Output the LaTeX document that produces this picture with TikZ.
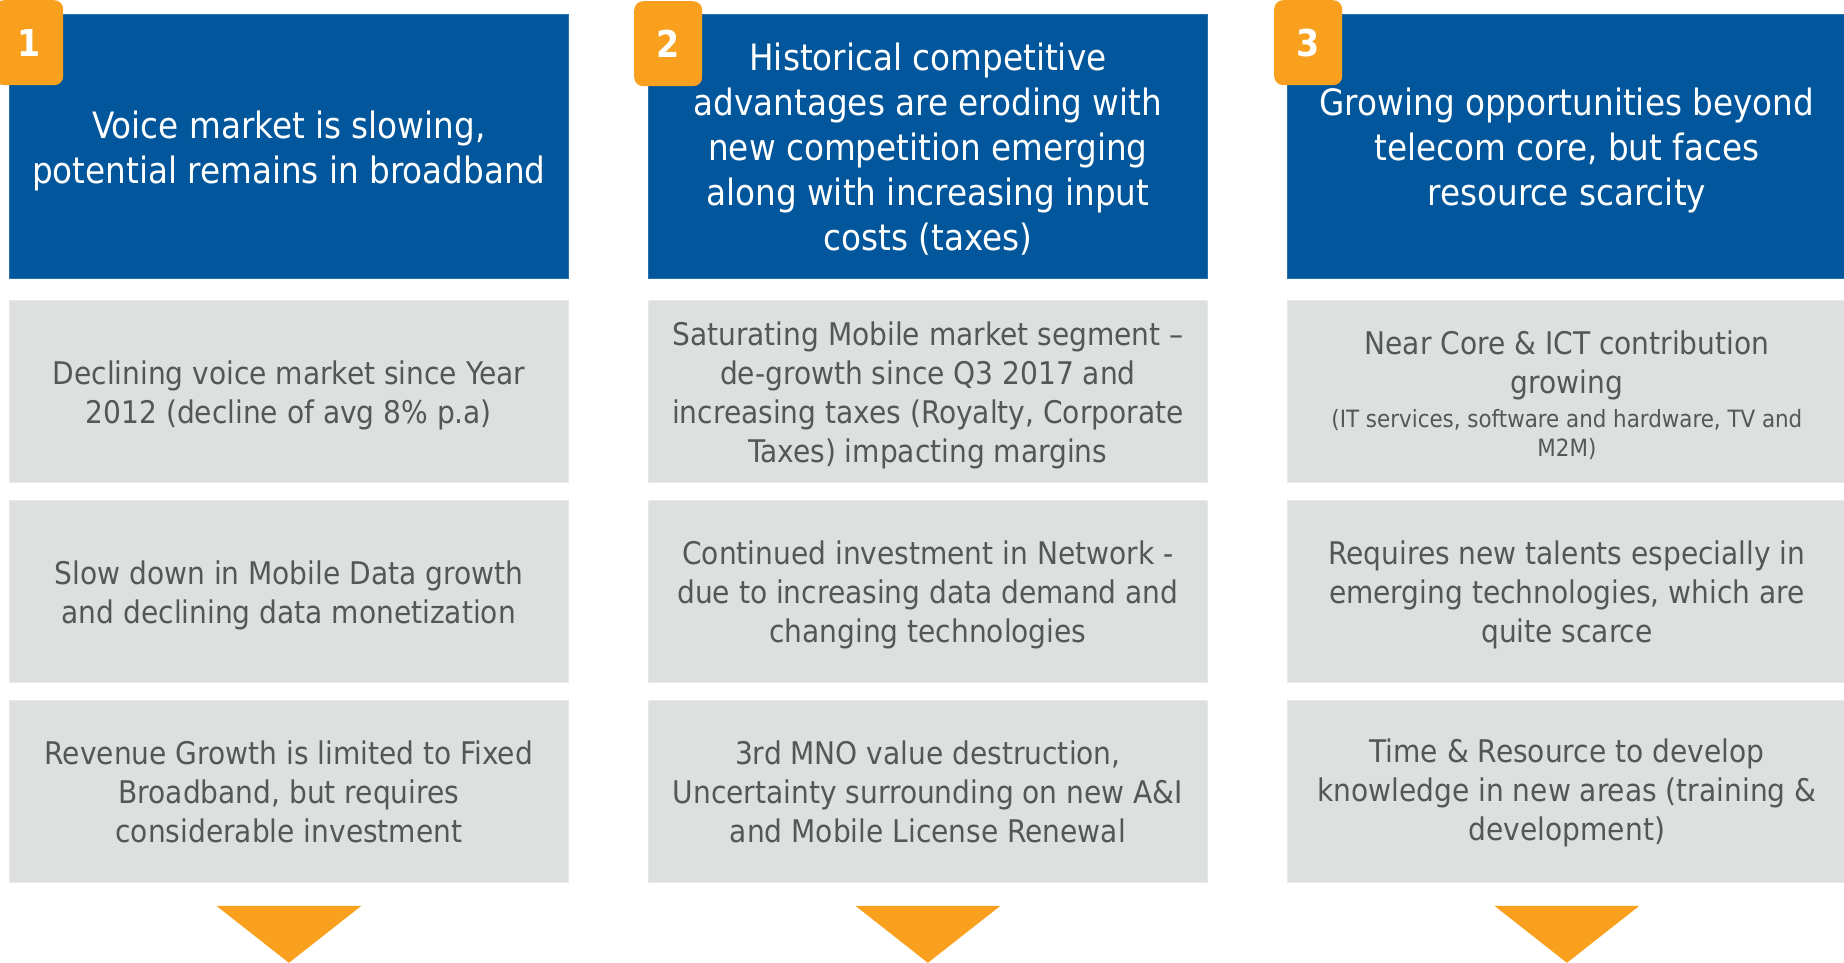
\documentclass[tikz,border=0pt]{standalone}
\usepackage{fontspec}
\setmainfont{DejaVu Sans Condensed}
\definecolor{hdrblue}{HTML}{02569B}
\definecolor{cellgray}{HTML}{DEDFDF}
\definecolor{celledge}{HTML}{E8E9E9}
\definecolor{txtgray}{HTML}{555658}
\definecolor{accent}{HTML}{F9A01E}
\begin{document}
\begin{tikzpicture}[x=1pt,y=-1pt,
  header/.style={fill=hdrblue, draw=hdrblue!85!white, line width=0.8pt,
    minimum width=559pt, minimum height=264pt, inner sep=0pt, anchor=north west},
  headtext/.style={text=white, inner sep=0pt, align=center,
    font=\fontsize{36.3}{45}\selectfont},
  cell/.style={fill=cellgray, draw=celledge, line width=0.8pt,
    minimum width=559pt, minimum height=182pt, inner sep=0pt, anchor=north west},
  celltext/.style={text=txtgray, inner sep=0pt, align=center,
    font=\fontsize{31.2}{39}\selectfont},
  badge/.style={fill=accent, rounded corners=9pt, text=white, minimum width=68pt,
    minimum height=85pt, inner sep=0pt, anchor=north west,
    font=\fontsize{37}{40}\selectfont\bfseries},
  arrowtri/.style={fill=accent}
]
\useasboundingbox (0,0) rectangle (1844,963);
\clip (0,0) rectangle (1844,963);

% boxes
\node[header] (h1) at (9,14) {};
\node[header] (h2) at (648,14) {};
\node[header] (h3) at (1287,14) {};
\foreach \col/\x in {1/9,2/648,3/1287}{
  \node[cell] (c\col1) at (\x,300) {};
  \node[cell] (c\col2) at (\x,500) {};
  \node[cell] (c\col3) at (\x,700) {};
}

% column 1
\node[headtext] (t1) at ([yshift=-4.5pt]h1.center) {Voice market is slowing,\\potential remains in broadband};
\node[celltext] (t11) at ([yshift=-3.5pt]c11.center) {Declining voice market since Year\\2012 (decline of avg 8\% p.a)};
\node[celltext] (t12) at ([yshift=-3.5pt]c12.center) {Slow down in Mobile Data growth\\and declining data monetization};
\node[celltext] (t13) at (c13.center) {Revenue Growth is limited to Fixed\\Broadband, but requires\\considerable investment};
\node[badge] (b1) at (-5,0) {1};

% column 2
\node[headtext] (t2) at ([yshift=-3pt]h2.center) {Historical competitive\\advantages are eroding with\\new competition emerging\\along with increasing input\\costs (taxes)};
\node[celltext] (t21) at ([yshift=-3.5pt]c21.center) {Saturating Mobile market segment –\\de-growth since Q3 2017 and\\increasing taxes (Royalty, Corporate\\Taxes) impacting margins};
\node[celltext] (t22) at ([yshift=-3.5pt]c22.center) {Continued investment in Network -\\due to increasing data demand and\\changing technologies};
\node[celltext] (t23) at (c23.center) {3rd MNO value destruction,\\Uncertainty surrounding on new A\&I\\and Mobile License Renewal};
\node[badge] (b2) at (634,1) {2};

% column 3
\node[headtext] (t3) at ([yshift=-4.5pt]h3.center) {Growing opportunities beyond\\telecom core, but faces\\resource scarcity};
\node[celltext] (t31) at ([yshift=-3.5pt]c31.center) {Near Core \& ICT contribution\\growing\\[-5pt]{\fontsize{23.8}{28}\selectfont (IT services, software and hardware, TV and}\\[-10pt]{\fontsize{23.8}{28}\selectfont M2M)}};
\node[celltext] (t32) at ([yshift=-3.5pt]c32.center) {Requires new talents especially in\\emerging technologies, which are\\quite scarce};
\node[celltext] (t33) at ([yshift=-1.5pt]c33.center) {Time \& Resource to develop\\knowledge in new areas (training \&\\development)};
\node[badge] (b3) at (1274,0) {3};

% downward pointers under each column
\foreach \c in {c13,c23,c33}{
  \coordinate (\c-tl) at ([xshift=-72.5pt,yshift=-23pt]\c.south);
  \coordinate (\c-tr) at ([xshift=72.5pt,yshift=-23pt]\c.south);
  \coordinate (\c-tip) at ([yshift=-80pt]\c.south);
  \fill[arrowtri] (\c-tl) -- (\c-tr) -- (\c-tip) -- cycle;
}
\end{tikzpicture}
\end{document}
